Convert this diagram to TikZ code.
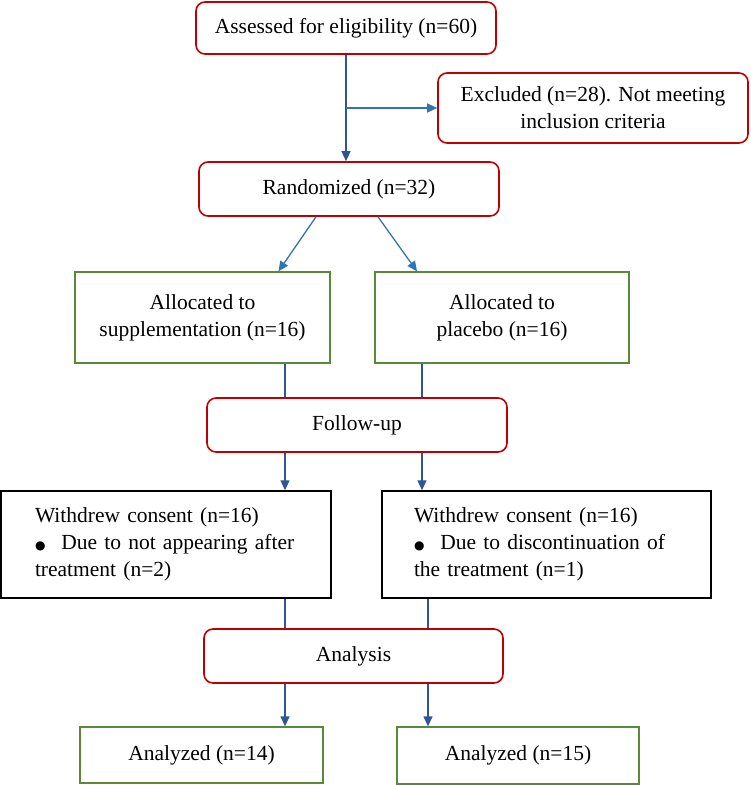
\documentclass[tikz,border=0pt]{standalone}
\usepackage{fontspec}
\setmainfont{Liberation Serif}
\newfontfamily\symfont{DejaVu Sans}
\usetikzlibrary{arrows.meta}
\definecolor{boxred}{RGB}{192,0,0}
\definecolor{boxgreen}{RGB}{90,138,56}
\definecolor{linkblue}{RGB}{47,85,151}
\definecolor{lightblue}{RGB}{46,117,182}
\newcommand{\bigdot}{{\symfont\fontsize{12}{12}\selectfont ●}}

\begin{document}
\begin{tikzpicture}[x=1pt, y=-1pt,
    font=\fontsize{21.5}{27}\selectfont,
    redbox/.style = {draw=boxred, line width=1.6pt, rounded corners=9pt,
        align=center, inner sep=0pt},
    greenbox/.style = {draw=boxgreen, line width=1.3pt, align=center, inner sep=0pt},
    blackbox/.style = {draw=black, line width=1.5pt, align=left, inner ysep=0pt,
        minimum height=107pt},
    link/.style = {draw=linkblue, line width=1.3pt},
    arrow/.style = {link, -{Triangle[length=10pt,width=9pt]}}]
\useasboundingbox (0,0) rectangle (751,785);

\node[redbox, minimum width=300pt, minimum height=52pt] (assess) at (346,28)
    {Assessed for eligibility (n=60)};
\node[redbox, minimum width=310pt, minimum height=70pt] (excl) at (593,108)
    {Excluded (n=28). Not meeting\\inclusion criteria};
\node[redbox, minimum width=300pt, minimum height=54pt] (rand) at (349,189)
    {Randomized (n=32)};
\node[greenbox, minimum width=255pt, minimum height=91pt] (alloc1) at (202.5,317.5)
    {Allocated to\\supplementation (n=16)};
\node[greenbox, minimum width=254pt, minimum height=91pt] (alloc2) at (502,317.5)
    {Allocated to\\placebo (n=16)};
\node[redbox, minimum width=300pt, minimum height=54pt] (follow) at (357,425)
    {Follow-up};
\node[blackbox, text width=262pt, inner xsep=34pt] (wd1) at (166,544.5)
    {Withdrew consent (n=16)\\
     \bigdot\hspace{16pt}Due to not appearing after\\
     treatment (n=2)};
\node[blackbox, text width=265pt, inner xsep=32pt] (wd2) at (546.5,544.5)
    {Withdrew consent (n=16)\\
     \bigdot\hspace{16pt}Due to discontinuation of\\
     the treatment (n=1)};
\node[redbox, minimum width=299pt, minimum height=54pt] (analysis) at (353.5,656)
    {Analysis};
\node[greenbox, minimum width=243pt, minimum height=56pt] (an1) at (201.5,755)
    {Analyzed (n=14)};
\node[greenbox, minimum width=242pt, minimum height=57pt] (an2) at (518,755.5)
    {Analyzed (n=15)};

\coordinate (colL) at (285,0);
\coordinate (colR) at (422,0);
\coordinate (colR2) at (428,0);

\draw[arrow] (assess.south) -- (assess.south |- rand.north);
\draw[arrow, draw=lightblue] (assess.south |- excl.west) -- (excl.west);
\draw[arrow, draw=lightblue] ([xshift=-33pt]rand.south) -- ([xshift=76pt]alloc1.north);
\draw[arrow, draw=lightblue] ([xshift=29pt]rand.south) -- ([xshift=-85pt]alloc2.north);
\draw[link] (alloc1.south -| colL) -- (follow.north -| colL);
\draw[link] (alloc2.south -| colR) -- (follow.north -| colR);
\draw[arrow] (follow.south -| colL) -- (wd1.north -| colL);
\draw[arrow] (follow.south -| colR) -- (wd2.north -| colR);
\draw[link] (wd1.south -| colL) -- (analysis.north -| colL);
\draw[link] (wd2.south -| colR2) -- (analysis.north -| colR2);
\draw[arrow] (analysis.south -| colL) -- (an1.north -| colL);
\draw[arrow] (analysis.south -| colR2) -- (an2.north -| colR2);
\end{tikzpicture}
\end{document}
